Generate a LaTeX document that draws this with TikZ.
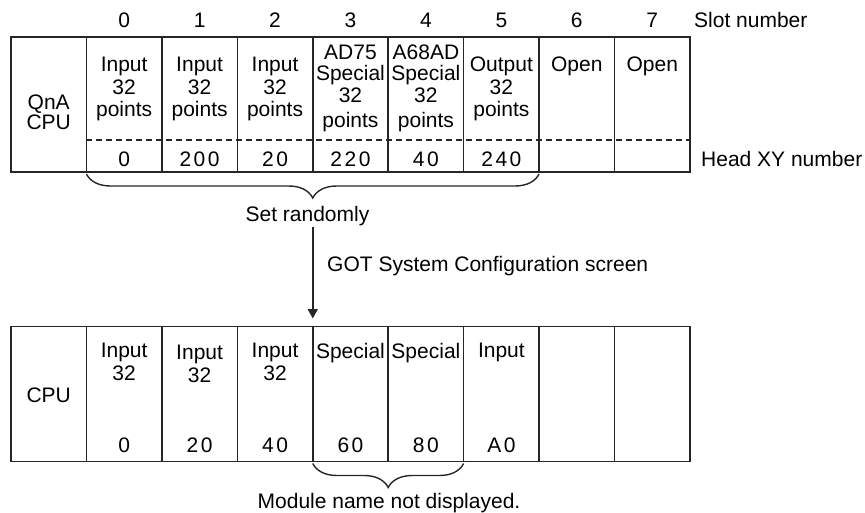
\documentclass[tikz,border=0pt]{standalone}
\usepackage{fontspec}
\setmainfont{Liberation Sans}
\newfontfamily\xyfamily[LetterSpace=12]{Liberation Sans}
\usepackage{tikz}
\usetikzlibrary{arrows.meta,positioning,decorations.pathreplacing}
\tikzset{
  cell/.style={rectangle, draw=black!85, line width=1.5pt, minimum width=75.44pt,
               minimum height=135pt, inner sep=0pt, outer sep=0pt},
  modtxt/.style={font=\fontsize{21}{22.5}\selectfont, align=center, inner sep=0pt, anchor=north},
  xytxt/.style={font=\xyfamily\fontsize{21}{23}\selectfont, inner sep=0pt, anchor=base},
  lbl/.style={font=\fontsize{21}{23}\selectfont, inner sep=0pt, anchor=base},
  sepline/.style={black!85, line width=1.2pt, dash pattern=on 6pt off 4pt},
  brc/.style={decorate, decoration={brace, mirror, amplitude=24pt}, line width=1.4pt, black!85},
  arrow/.style={-{Triangle[length=9.5pt, width=10pt]}, line width=1.8pt, black!85},
}
\begin{document}
\begin{tikzpicture}[x=1pt, y=-1pt]
  \useasboundingbox (0,0) rectangle (865,513);
  \coordinate (slotrow) at (0,28);
  \coordinate (modrow) at (0,57);
  \coordinate (sprow) at (0,45);
  \coordinate (dashrow) at (0,140);
  \coordinate (xyrow) at (0,167);
  \coordinate (bmodrow) at (0,343);
  \coordinate (bxyrow) at (0,452);
  % upper configuration
  \node[cell] (t0) at (48.72,104.5) {};
  \node[cell, right=0pt of t0] (t1) {};
  \node[cell, right=0pt of t1] (t2) {};
  \node[cell, right=0pt of t2] (t3) {};
  \node[cell, right=0pt of t3] (t4) {};
  \node[cell, right=0pt of t4] (t5) {};
  \node[cell, right=0pt of t5] (t6) {};
  \node[cell, right=0pt of t6] (t7) {};
  \node[cell, right=0pt of t7] (t8) {};
  \draw[sepline] (t1.west |- dashrow) -- (t8.east |- dashrow);
  \node[lbl] (n0) at (t1 |- slotrow) {0};
  \node[lbl] (n1) at (t2 |- slotrow) {1};
  \node[lbl] (n2) at (t3 |- slotrow) {2};
  \node[lbl] (n3) at (t4 |- slotrow) {3};
  \node[lbl] (n4) at (t5 |- slotrow) {4};
  \node[lbl] (n5) at (t6 |- slotrow) {5};
  \node[lbl] (n6) at (t7 |- slotrow) {6};
  \node[lbl] (n7) at (t8 |- slotrow) {7};
  \node[lbl, anchor=base west] (slotlbl) at (694,28) {Slot number};
  \node[modtxt] (qcpu) at (48.72,95) {QnA\\[-2.5pt]CPU};
  \node[modtxt] (m1) at (t1 |- modrow) {Input\\32\\points};
  \node[modtxt] (m2) at (t2 |- modrow) {Input\\32\\points};
  \node[modtxt] (m3) at (t3 |- modrow) {Input\\32\\points};
  \node[modtxt] (m4) at (t4 |- sprow) {AD75\\[-2pt]Special\\32\\[2pt]points};
  \node[modtxt] (m5) at (t5 |- sprow) {A68AD\\[-2pt]Special\\32\\[2pt]points};
  \node[modtxt] (m6) at (t6 |- modrow) {Output\\32\\points};
  \node[modtxt] (m7) at (t7 |- modrow) {Open};
  \node[modtxt] (m8) at (t8 |- modrow) {Open};
  \node[xytxt] (x1) at (t1 |- xyrow) {0};
  \node[xytxt] (x2) at (t2 |- xyrow) {200};
  \node[xytxt] (x3) at (t3 |- xyrow) {20};
  \node[xytxt] (x4) at (t4 |- xyrow) {220};
  \node[xytxt] (x5) at (t5 |- xyrow) {40};
  \node[xytxt] (x6) at (t6 |- xyrow) {240};
  \node[lbl, anchor=base west] (headlbl) at (701,167) {Head XY number};
  \draw[brc] ([yshift=-2pt]t1.south west) -- ([yshift=-2pt]t6.south east);
  \node[lbl] (setr) at (307.5,222) {Set randomly};
  % lower configuration
  \node[cell] (b0) at (48.72,394) {};
  \node[cell, right=0pt of b0] (b1) {};
  \node[cell, right=0pt of b1] (b2) {};
  \node[cell, right=0pt of b2] (b3) {};
  \node[cell, right=0pt of b3] (b4) {};
  \node[cell, right=0pt of b4] (b5) {};
  \node[cell, right=0pt of b5] (b6) {};
  \node[cell, right=0pt of b6] (b7) {};
  \node[cell, right=0pt of b7] (b8) {};
  \node[lbl] (bcpu) at (48.72,402) {CPU};
  \node[modtxt] (c1) at (b1 |- bmodrow) {Input\\32};
  \node[modtxt] (c2) at ([yshift=-2pt]b2 |- bmodrow) {Input\\32};
  \node[modtxt] (c3) at (b3 |- bmodrow) {Input\\32};
  \node[modtxt] (c4) at (b4 |- bmodrow) {Special};
  \node[modtxt] (c5) at (b5 |- bmodrow) {Special};
  \node[modtxt] (c6) at (b6 |- bmodrow) {Input};
  \node[xytxt] (y1) at (b1 |- bxyrow) {0};
  \node[xytxt] (y2) at (b2 |- bxyrow) {20};
  \node[xytxt] (y3) at (b3 |- bxyrow) {40};
  \node[xytxt] (y4) at (b4 |- bxyrow) {60};
  \node[xytxt] (y5) at (b5 |- bxyrow) {80};
  \node[xytxt] (y6) at (b6 |- bxyrow) {A0};
  \draw[brc] ([yshift=-2pt]b4.south west) -- ([yshift=-2pt]b5.south east);
  \node[lbl] (hidden) at (389,508) {Module name not displayed.};
  % screen step
  \draw[arrow] (setr.south -| b4.north west) -- ([yshift=8pt]b4.north west);
  \node[lbl, anchor=base west] (gotlbl) at (327,272) {GOT System Configuration screen};
\end{tikzpicture}
\end{document}
